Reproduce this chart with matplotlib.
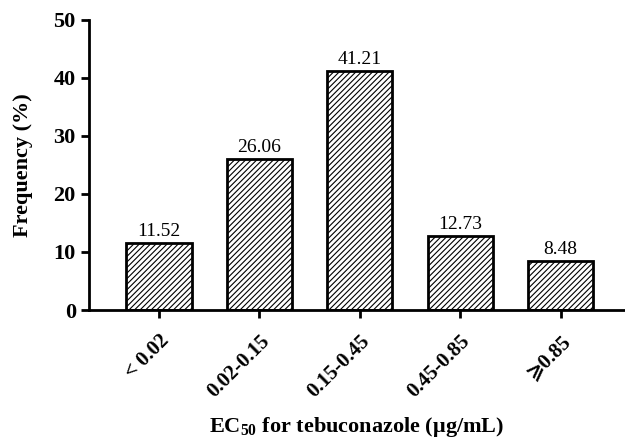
import matplotlib.pyplot as plt
import matplotlib as mpl

categories = ['< 0.02', '0.02-0.15', '0.15-0.45', '0.45-0.85', '⩾0.85']
frequency = [11.52, 26.06, 41.21, 12.73, 8.48]
yticks = [0, 10, 20, 30, 40, 50]

plt.rcParams['font.family'] = ['Liberation Serif', 'DejaVu Serif', 'DejaVu Sans']
mpl.rcParams['mathtext.fontset'] = 'custom'
mpl.rcParams['mathtext.rm'] = 'Liberation Serif'
mpl.rcParams['mathtext.bf'] = 'Liberation Serif:bold'
mpl.rcParams['hatch.linewidth'] = 0.8

fig = plt.figure(figsize=(6.25, 4.41), dpi=100)
ax = fig.add_axes([0.1424, 0.297, 0.8576, 0.658])

x = range(len(categories))
bars = ax.bar(x, frequency, width=0.65, color='white', edgecolor='black',
              linewidth=2, hatch='//////')

# 柱顶数值
for b, v in zip(bars, frequency):
    ax.annotate(f'{v:.2f}', (b.get_x() + b.get_width() / 2, v),
                xytext=(0, 2), textcoords='offset points',
                ha='center', va='bottom', fontsize=14)

ax.set_xlim(-0.696, 4.64)
ax.set_ylim(0, 50)
ax.set_yticks(yticks)
ax.set_xticks(list(x))
ax.set_xticklabels(categories, rotation=45, ha='right', rotation_mode='anchor',
                   fontweight='bold', fontsize=15)
for t in ax.get_yticklabels():
    t.set_fontweight('bold')
    t.set_fontsize(16)

ax.spines['top'].set_visible(False)
ax.spines['right'].set_visible(False)
ax.spines['left'].set_linewidth(2)
ax.spines['bottom'].set_linewidth(2)
ax.tick_params(width=2, length=6)
ax.tick_params(axis='x', pad=9)

ax.set_ylabel('Frequency (%)', fontsize=16, fontweight='bold', labelpad=15)
ax.set_xlabel('EC$_{\\mathbf{50}}$ for tebuconazole (μg/mL)', fontsize=16,
              fontweight='bold', labelpad=10)

plt.savefig('out.png', dpi=100)
